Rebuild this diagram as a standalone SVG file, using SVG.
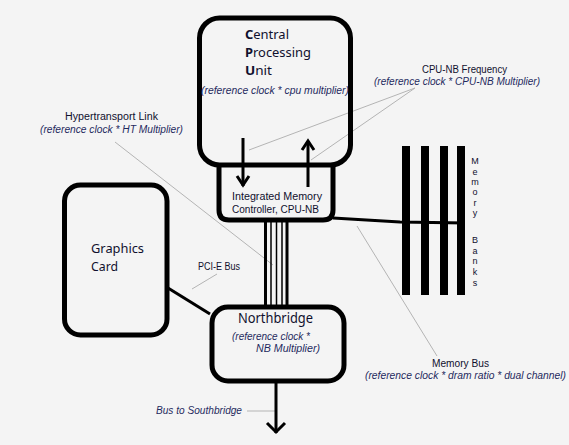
<svg xmlns="http://www.w3.org/2000/svg" width="569" height="445" viewBox="0 0 569 445">
<style>
.box{fill:none;stroke:#000;stroke-width:5}
.ln{fill:none;stroke:#000;stroke-linecap:butt}
.lead{fill:none;stroke:#b4b4b4;stroke-width:1}
.t{font-family:"Noto Sans","Liberation Sans",Arial,sans-serif;fill:#10102e}
.s{font-family:"Liberation Sans",Arial,sans-serif;fill:#10102e;font-size:10px}
.v{font-family:"Liberation Sans",Arial,sans-serif;fill:#10102e;font-size:9px}
.i{font-family:"Liberation Sans",Arial,sans-serif;font-style:italic;fill:#1f2a5e;font-size:10px}
</style>
<rect x="0" y="0" width="569" height="445" fill="#f4f4f4"/>
<g id="connectors">
<line class="lead" x1="415" y1="88" x2="249" y2="150"/>
<line class="lead" x1="415" y1="88" x2="311" y2="160"/>
<line class="lead" x1="115" y1="142" x2="273" y2="265"/>
<line class="lead" x1="217" y1="274" x2="192" y2="289"/>
<line class="lead" x1="357" y1="226" x2="437" y2="356"/>
<line class="lead" x1="247" y1="411" x2="276" y2="411"/>
<line class="ln" x1="243" y1="138" x2="243" y2="186" stroke-width="3"/>
<polyline class="ln" points="237,176 243,185 249,176" stroke-width="3"/>
<line class="ln" x1="308" y1="141" x2="308" y2="187" stroke-width="3"/>
<polyline class="ln" points="302,150 308,141 314,150" stroke-width="3"/>
<line class="ln" x1="265.5" y1="220" x2="265.5" y2="307" stroke-width="3"/>
<line class="ln" x1="271" y1="220" x2="271" y2="307" stroke-width="1.5"/>
<line class="ln" x1="276.5" y1="220" x2="276.5" y2="307" stroke-width="1.5"/>
<line class="ln" x1="282" y1="220" x2="282" y2="307" stroke-width="1.5"/>
<line class="ln" x1="287" y1="220" x2="287" y2="307" stroke-width="3"/>
<polyline class="ln" points="333,218 400,222 465,223" stroke-width="3"/>
<line class="ln" x1="168" y1="288" x2="210" y2="314" stroke-width="3"/>
<line class="ln" x1="276" y1="381" x2="276" y2="433" stroke-width="3"/>
<polyline class="ln" points="267,423 276,432 285,423" stroke-width="3"/>
</g>
<g id="imc">
<path class="box" d="M219,165 V210 Q219,220 229,220 H323 Q333,220 333,210 V165" stroke-width="4"/>
<text class="s" x="232" y="200" font-size="11" textLength="90" lengthAdjust="spacingAndGlyphs">Integrated Memory</text>
<text class="s" x="232" y="213" font-size="11" textLength="87" lengthAdjust="spacingAndGlyphs">Controller, CPU-NB</text>
</g>
<g id="cpu">
<rect class="box" x="199.5" y="18" width="151" height="147" rx="20"/>
<text class="t" x="245" y="39" font-size="13" textLength="44" lengthAdjust="spacingAndGlyphs"><tspan font-weight="bold">C</tspan>entral</text>
<text class="t" x="245" y="57" font-size="13" textLength="66" lengthAdjust="spacingAndGlyphs"><tspan font-weight="bold">P</tspan>rocessing</text>
<text class="t" x="245" y="75" font-size="13" textLength="27" lengthAdjust="spacingAndGlyphs"><tspan font-weight="bold">U</tspan>nit</text>
<text class="i" x="201" y="94" textLength="148" lengthAdjust="spacingAndGlyphs">(reference clock * cpu multiplier)</text>
</g>
<g id="cpu-nb-label">
<text class="s" x="422" y="72.5" textLength="85" lengthAdjust="spacingAndGlyphs">CPU-NB Frequency</text>
<text class="i" x="374" y="84.5" textLength="166" lengthAdjust="spacingAndGlyphs">(reference clock * CPU-NB Multiplier)</text>
</g>
<g id="ht-label">
<text class="s" x="65" y="120" textLength="93" lengthAdjust="spacingAndGlyphs">Hypertransport Link</text>
<text class="i" x="40" y="133" textLength="143" lengthAdjust="spacingAndGlyphs">(reference clock * HT Multiplier)</text>
</g>
<g id="memory-banks">
<rect x="402" y="146" width="8" height="149" fill="#000"/>
<rect x="421" y="146" width="8" height="149" fill="#000"/>
<rect x="440" y="146" width="8" height="149" fill="#000"/>
<rect x="457" y="146" width="8" height="149" fill="#000"/>
<g class="v" text-anchor="middle">
<text x="475" y="164">M</text>
<text x="475" y="174.5">e</text>
<text x="475" y="185">m</text>
<text x="475" y="195">o</text>
<text x="475" y="205.5">r</text>
<text x="475" y="215.5">y</text>
<text x="475" y="243">B</text>
<text x="475" y="253.5">a</text>
<text x="475" y="264">n</text>
<text x="475" y="275">k</text>
<text x="475" y="285.5">s</text>
</g>
</g>
<g id="graphics-card">
<rect class="box" x="64.5" y="185" width="102.5" height="150" rx="16"/>
<text class="t" x="91" y="253" font-size="13" textLength="53" lengthAdjust="spacingAndGlyphs">Graphics</text>
<text class="t" x="91" y="271" font-size="13" textLength="27" lengthAdjust="spacingAndGlyphs">Card</text>
</g>
<g id="pcie-label">
<text class="s" x="198" y="270" textLength="42" lengthAdjust="spacingAndGlyphs">PCI-E Bus</text>
</g>
<g id="northbridge">
<rect class="box" x="212" y="307" width="132" height="74" rx="16"/>
<text class="t" x="238" y="323" font-size="14" textLength="75" lengthAdjust="spacingAndGlyphs">Northbridge</text>
<text class="i" x="232" y="340" textLength="78" lengthAdjust="spacingAndGlyphs">(reference clock *</text>
<text class="i" x="256" y="352" textLength="64" lengthAdjust="spacingAndGlyphs">NB Multiplier)</text>
</g>
<g id="memory-bus-label">
<text class="s" x="432" y="366.5" textLength="57" lengthAdjust="spacingAndGlyphs">Memory Bus</text>
<text class="i" x="365" y="378.5" textLength="201" lengthAdjust="spacingAndGlyphs">(reference clock * dram ratio * dual channel)</text>
</g>
<g id="southbridge-label">
<text class="i" x="156" y="414" textLength="86" lengthAdjust="spacingAndGlyphs">Bus to Southbridge</text>
</g>
</svg>
